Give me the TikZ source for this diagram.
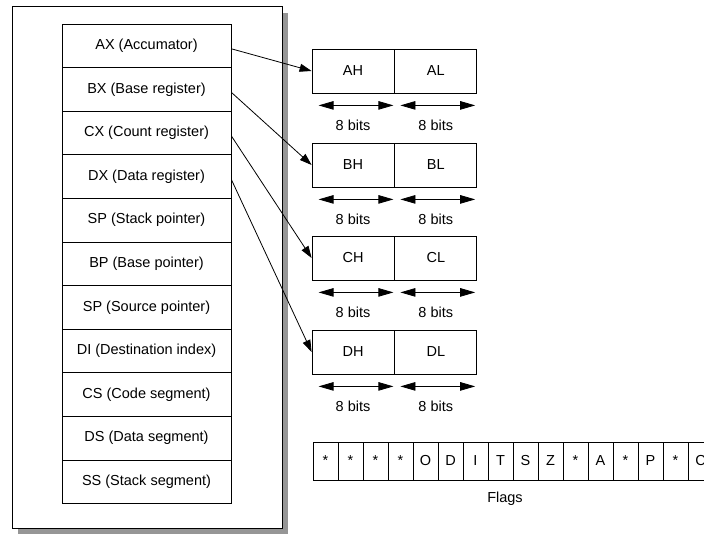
\documentclass[tikz,border=0pt]{standalone}
\usepackage{fontspec}
\setmainfont{Liberation Sans}
\usetikzlibrary{arrows.meta}
\definecolor{shadowgray}{RGB}{150,150,150}
\begin{document}
\begin{tikzpicture}[x=1pt,y=-1pt,line width=0.8pt,font=\fontsize{14.5}{16}\selectfont,
    reg/.style={draw,minimum width=169pt,minimum height=43.6pt,inner sep=0pt},
    half/.style={draw,minimum width=82pt,minimum height=44pt,inner sep=0pt},
    flag/.style={draw,minimum width=25pt,minimum height=38pt,inner sep=0pt},
    tip/.style={-{Triangle[length=12pt,width=8pt]}},
    span/.style={{Triangle[length=15pt,width=8.5pt]}-{Triangle[length=15pt,width=8.5pt]}}]
        \useasboundingbox (0,0) rectangle (704,533);
        \clip (0,0) rectangle (704,533);
        % frame with its shadow
        \fill[shadowgray] (18,13) rectangle (288,534);
        \draw[fill=white] (12,6) rectangle (282,528);
        % registers
        \foreach \t [count=\i] in {AX (Accumator),BX (Base register),CX (Count register),
            DX (Data register),SP (Stack pointer),BP (Base pointer),SP (Source pointer),
            DI (Destination index),CS (Code segment),DS (Data segment),SS (Stack segment)}
        \node[reg] (r\i) at (146.5,{24+(\i-0.5)*43.6}) {\t};
        % high and low bytes
        \foreach \r/\y [count=\i] in {A/49,B/143,C/236,D/330}
            {
                \node[half] (h\i) at (353,\y+22) {\r H};
                \node[half,anchor=west] (l\i) at (h\i.east) {\r L};
                \draw[span] ([xshift=7pt,yshift=-12pt]h\i.south west) -- ([xshift=-1pt,yshift=-12pt]h\i.south east);
                \draw[span] ([xshift=6pt,yshift=-12pt]l\i.south west) -- ([xshift=-2pt,yshift=-12pt]l\i.south east);
                \node (bh\i) at ([yshift=-32pt]h\i.south) {8 bits};
                \node (bl\i) at ([yshift=-32pt]l\i.south) {8 bits};
                \draw[tip] ([yshift=-3pt]r\i.east) -- (h\i.west);
            }
        % flag bits
        \foreach \f [count=\i] in {*,*,*,*,O,D,I,T,S,Z,*,A,*,P,*,C}
        \node[flag] (f\i) at ({313+(\i-0.5)*25},461) {\f};
        \node (flags) at (505,499) {Flags};
    \end{tikzpicture}
\end{document}
